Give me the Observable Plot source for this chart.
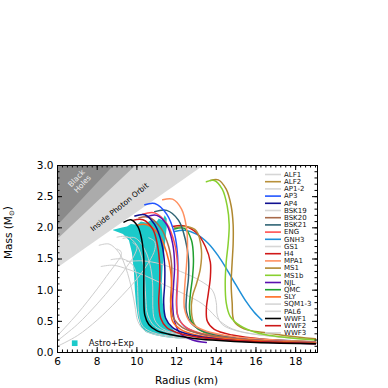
<!DOCTYPE html>
<html><head><meta charset="utf-8">
<script src="https://cdn.jsdelivr.net/npm/d3@7"></script>
<script src="https://cdn.jsdelivr.net/npm/@observablehq/plot@0.6"></script>
<style>body{margin:0;background:#fff}</style>
</head><body><div id="chart"></div>
<script>
// ---------- tick labels ----------
const xMajorTicks = [6, 8, 10, 12, 14, 16, 18];
const yMajorTicks = [0, 0.5, 1.0, 1.5, 2.0, 2.5, 3.0];

// ---------- forbidden-region edges (R km, M Msun) ----------
const photonEdgeR = [6, 13.4],  photonEdgeM = [1.35, 3.0];
const buchdahlEdgeR = [6, 9.97], buchdahlEdgeM = [1.81, 3.0];
const bhEdgeR = [6, 8.86],      bhEdgeM = [2.03, 3.0];

// ---------- Astro+Exp band ----------
const astroR = [8.8,9.3,9.6,9.75,9.85,9.9,9.95,10.05,10.2,10.45,10.9,11.4,12.0,12.6,12.3,11.9,11.6,11.4,11.3,11.25,11.3,11.4,11.5,11.5,11.4,11.3,11.1,11.0,10.7,10.5,10.2,10.0,9.7,9.5,9.2,8.8];
const astroM = [1.96,1.9,1.8,1.6,1.3,1.0,0.8,0.57,0.42,0.33,0.28,0.25,0.23,0.22,0.28,0.35,0.45,0.6,0.8,1.1,1.4,1.7,2.0,2.15,2.2,2.12,2.15,2.1,2.12,2.08,2.1,2.05,2.06,2.02,2.0,1.97];

// ---------- EOS names and colours (legend order) ----------
const eosNames  = ["ALF1","ALF2","AP1-2","AP3","AP4","BSK19","BSK20","BSK21","ENG","GNH3","GS1","H4","MPA1","MS1","MS1b","NJL","QMC","SLY","SQM1-3","PAL6","WWF1","WWF2","WWF3"];
const eosColors = ["#d6d6d6","#b8903a","#d6d6d6","#2255ff","#101090","#d6d6d6","#a86a4a","#2f6474","#ff5050","#1e8fd8","#d6d6d6","#d01818","#ff9060","#b08830","#88d030","#5a10b0","#20a030","#ff6a20","#d6d6d6","#d6d6d6","#000000","#cc1818","#d6d6d6"];

// ---------- mass-radius curves ----------
const R_ALF1 = [8.7,9.3,9.8,10.0,10.05,10.1,10.3,10.8,12,14,17,19];
const M_ALF1 = [1.49,1.5,1.4,1.2,0.9,0.6,0.42,0.32,0.25,0.2,0.17,0.15];
const R_AP12 = [8.1,8.6,9.1,9.45,9.75,9.9,10.05,10.4,11.2,13,16,19];
const M_AP12 = [1.72,1.74,1.6,1.35,1.0,0.75,0.5,0.35,0.27,0.21,0.17,0.15];
const R_BSK19 = [9.0,9.5,10.0,10.3,10.4,10.45,10.55,10.9,11.6,13,16,19];
const M_BSK19 = [1.85,1.86,1.72,1.45,1.15,0.85,0.6,0.42,0.32,0.25,0.19,0.16];
const R_GS1 = [8.2,8.8,9.6,10.5,11.5,12.5,13.3,13.8,14.2,14.8,16,19];
const M_GS1 = [1.38,1.4,1.33,1.22,1.07,0.92,0.78,0.63,0.5,0.38,0.29,0.21];
const R_SQM1 = [6,7,8,8.6,9.0,9.2,9.2,9.0];
const M_SQM1 = [0.27,0.62,1.02,1.28,1.45,1.55,1.62,1.66];
const R_SQM2 = [6,7,8,8.8,9.5,9.9,10.0,9.8];
const M_SQM2 = [0.19,0.45,0.78,1.08,1.38,1.58,1.7,1.76];
const R_SQM3 = [6,7,8,9,10,10.6,10.9,10.9,10.6];
const M_SQM3 = [0.1,0.27,0.52,0.83,1.18,1.45,1.65,1.78,1.84];
const R_PAL6 = [9.5,10.3,11.2,12.2,13.2,13.8,14.0,14.05,14.3,15,16.5,19];
const M_PAL6 = [1.46,1.47,1.42,1.3,1.15,1.0,0.8,0.6,0.45,0.35,0.27,0.2];
const R_WWF3 = [9.3,9.9,10.4,10.7,10.8,10.8,10.9,11.3,12.2,14,17,19];
const M_WWF3 = [1.83,1.84,1.65,1.35,1.05,0.75,0.52,0.38,0.29,0.23,0.18,0.16];

const R_WWF1 = [9.35,9.7,10.05,10.25,10.35,10.35,10.35,10.4,10.6,11.0,11.8,12.8,13.8,16,19];
const M_WWF1 = [2.09,2.13,2.02,1.8,1.5,1.2,0.9,0.6,0.45,0.35,0.28,0.23,0.2,0.16,0.14];
const R_WWF2 = [9.8,10.3,10.8,11.05,11.15,11.15,11.1,11.2,11.5,12,13,14.5,16.5,19];
const M_WWF2 = [2.12,2.13,1.98,1.7,1.4,1.1,0.8,0.55,0.4,0.32,0.25,0.2,0.17,0.14];
const R_AP4 = [9.9,10.4,10.9,11.25,11.4,11.4,11.35,11.45,11.8,12.5,13.5,15,17,19];
const M_AP4 = [2.19,2.21,2.05,1.75,1.4,1.1,0.8,0.55,0.4,0.3,0.24,0.19,0.16,0.14];
const R_SLY = [10.0,10.5,11.1,11.5,11.7,11.75,11.7,11.8,12.2,13,14.5,16.5,19];
const M_SLY = [2.04,2.05,1.9,1.6,1.3,1.0,0.7,0.5,0.37,0.28,0.22,0.18,0.15];
const R_BSK20 = [10.1,10.6,11.2,11.6,11.75,11.75,11.7,11.85,12.3,13.2,15,17,19];
const M_BSK20 = [2.16,2.17,2.0,1.7,1.4,1.1,0.8,0.55,0.4,0.3,0.22,0.18,0.16];
const R_ENG = [10.3,10.9,11.5,11.9,12.05,12.05,12.0,12.1,12.5,13.3,15,17,19];
const M_ENG = [2.22,2.24,2.07,1.75,1.4,1.1,0.8,0.55,0.4,0.3,0.22,0.18,0.16];
const R_NJL = [10.5,11.0,11.5,11.8,11.9,11.85,11.8,11.9,12.2,12.8,13.5];
const M_NJL = [2.18,2.2,2.05,1.75,1.4,1.1,0.8,0.5,0.3,0.2,0.16];
const R_AP3 = [10.4,10.9,11.5,11.9,12.05,12.05,12.0,12.05,12.4,13.2,15,17,19];
const M_AP3 = [2.37,2.39,2.22,1.9,1.55,1.2,0.9,0.6,0.42,0.3,0.22,0.18,0.16];
const R_MPA1 = [11.3,11.8,12.25,12.5,12.55,12.5,12.4,12.4,12.7,13.5,15,17,19];
const M_MPA1 = [2.45,2.46,2.3,2.0,1.7,1.4,1.0,0.7,0.48,0.34,0.25,0.2,0.17];
const R_BSK21 = [10.9,11.5,12.1,12.45,12.6,12.6,12.5,12.5,12.8,13.6,15,17,19];
const M_BSK21 = [2.26,2.28,2.12,1.8,1.5,1.2,0.9,0.65,0.45,0.32,0.24,0.2,0.17];
const R_QMC = [11.9,12.4,12.75,12.85,12.8,12.7,12.65,12.75,13.1,14,15.5,17,19];
const M_QMC = [1.98,1.99,1.8,1.5,1.2,0.95,0.7,0.5,0.37,0.28,0.22,0.19,0.17];
const R_ALF2 = [11.9,12.5,13.0,13.25,13.2,13.0,12.8,12.75,12.9,13.4,14.5,16.5,19];
const M_ALF2 = [2.0,2.02,1.95,1.65,1.35,1.1,0.9,0.65,0.45,0.32,0.24,0.19,0.16];
const R_H4 = [11.8,12.4,13.0,13.45,13.7,13.7,13.6,13.5,13.55,13.9,14.8,16.5,19];
const M_H4 = [2.02,2.03,1.92,1.7,1.45,1.2,0.95,0.7,0.5,0.37,0.28,0.21,0.17];
const R_GNH3 = [11.9,12.4,13.0,13.6,14.1,14.5,15.0,15.5,15.9,16.3];
const M_GNH3 = [1.94,1.96,1.9,1.75,1.55,1.35,1.08,0.82,0.65,0.52];
const R_MS1b = [13.5,13.9,14.3,14.55,14.65,14.6,14.5,14.45,14.5,14.7,15.2,16,17,19];
const M_MS1b = [2.74,2.76,2.62,2.35,2.05,1.75,1.45,1.1,0.8,0.58,0.43,0.32,0.26,0.2];
const R_MS1 = [13.7,14.1,14.5,14.75,14.85,14.85,14.8,14.75,14.8,14.9,15.4,16.4,17.5,19];
const M_MS1 = [2.76,2.77,2.62,2.35,2.05,1.75,1.45,1.1,0.8,0.5,0.38,0.32,0.27,0.22];

// drawing order: grey first, then coloured
const grayCurves = [
  ["ALF1",R_ALF1,M_ALF1],["AP1-2",R_AP12,M_AP12],["BSK19",R_BSK19,M_BSK19],["GS1",R_GS1,M_GS1],
  ["SQM1-3",R_SQM1,M_SQM1],["SQM1-3",R_SQM2,M_SQM2],["SQM1-3",R_SQM3,M_SQM3],["PAL6",R_PAL6,M_PAL6],["WWF3",R_WWF3,M_WWF3]
];
const colorCurves = [
  ["GNH3",R_GNH3,M_GNH3],["MS1",R_MS1,M_MS1],["MS1b",R_MS1b,M_MS1b],["H4",R_H4,M_H4],["ALF2",R_ALF2,M_ALF2],
  ["QMC",R_QMC,M_QMC],["BSK21",R_BSK21,M_BSK21],["MPA1",R_MPA1,M_MPA1],["AP3",R_AP3,M_AP3],["ENG",R_ENG,M_ENG],
  ["NJL",R_NJL,M_NJL],["BSK20",R_BSK20,M_BSK20],["SLY",R_SLY,M_SLY],["AP4",R_AP4,M_AP4],["WWF2",R_WWF2,M_WWF2],["WWF1",R_WWF1,M_WWF1]
];
const colorOf = n => eosColors[eosNames.indexOf(n)];
const pts = (R, M) => R.map((r, i) => ({R: r, M: M[i]}));
const edge = (R, M) => R.map((r, i) => ({R: r, lo: M[i], hi: 3.0}));

// layout constants
const W = 388, H = 388, mL = 57, mR = 71, mT = 165, mB = 36;
const xDom = [6, 19.1], yDom = [0, 3];
const kx = (W - mL - mR) / (xDom[1] - xDom[0]);   // px per km
const ky = (H - mT - mB) / (yDom[1] - yDom[0]);   // px per Msun
const xMinor = d3.range(6, 19.01, 0.25);
const yMinor = d3.range(0, 3.001, 0.1);
const FONT = "DejaVu Sans, Liberation Sans, sans-serif";

// legend layout (data units)
const legX1 = 6 + (265 - mL) / kx, legX2 = 6 + (281 - mL) / kx, legTX = 6 + (283.5 - mL) / kx;
const legTop = (H - mB - 174) / ky, legStep = 7.2 / ky;
const legendRows = eosNames.map((n, i) => ({name: n, color: eosColors[i], y: legTop - i * legStep}));

const marks = [
  Plot.areaY(edge(photonEdgeR, photonEdgeM), {x: "R", y1: "lo", y2: "hi", fill: "#dadada"}),
  Plot.areaY(edge(buchdahlEdgeR, buchdahlEdgeM), {x: "R", y1: "lo", y2: "hi", fill: "#ababab"}),
  Plot.areaY(edge(bhEdgeR, bhEdgeM), {x: "R", y1: "lo", y2: "hi", fill: "#8a8a8a"}),
  Plot.line(pts(astroR, astroM), {x: "R", y: "M", fill: "#1ccaca", stroke: "none"}),
  ...grayCurves.map(([n, R, M]) => Plot.line(pts(R, M), {x: "R", y: "M", stroke: "#cdcdcd", strokeWidth: 1, curve: "catmull-rom"})),
  ...colorCurves.map(([n, R, M]) => Plot.line(pts(R, M), {x: "R", y: "M", stroke: colorOf(n), strokeWidth: 1.5, curve: "catmull-rom"})),
  Plot.text(["Black\nHoles"], {x: 7.1, y: 2.75, text: d => d, rotate: -47, fill: "#eeeeee", fontSize: 7.5, lineHeight: 1.1}),
  Plot.text(["Inside Photon Orbit"], {x: 9.12, y: 2.33, text: d => d, rotate: -39, fill: "#000", fontSize: 7.5}),
  // legend
  Plot.ruleY(legendRows, {y: "y", x1: legX1, x2: legX2, stroke: "color", strokeWidth: 1.6}),
  Plot.text(legendRows, {x: legTX, y: "y", text: "name", textAnchor: "start", fontSize: 7, fill: "#111"}),
  Plot.dot(["Astro+Exp"], {x: 6 + (74.2 - mL) / kx, y: (H - mB - 342.7) / ky, symbol: "square", r: 3.2, fill: "#1ccaca", stroke: "none"}),
  Plot.text(["Astro+Exp"], {x: 6 + (88.3 - mL) / kx, y: (H - mB - 342.7) / ky, text: d => d, textAnchor: "start", fontSize: 8.5, fill: "#111"}),
  // inward ticks on four sides
  Plot.ruleX(xMajorTicks, {x: d => d, y1: 0, y2: 5 / ky, stroke: "#000"}),
  Plot.ruleX(xMinor, {x: d => d, y1: 0, y2: 2.5 / ky, stroke: "#000"}),
  Plot.ruleX(xMajorTicks, {x: d => d, y1: 3, y2: 3 - 5 / ky, stroke: "#000"}),
  Plot.ruleX(xMinor, {x: d => d, y1: 3, y2: 3 - 2.5 / ky, stroke: "#000"}),
  Plot.ruleY(yMajorTicks, {y: d => d, x1: xDom[0], x2: xDom[0] + 5 / kx, stroke: "#000"}),
  Plot.ruleY(yMinor, {y: d => d, x1: xDom[0], x2: xDom[0] + 2.5 / kx, stroke: "#000"}),
  Plot.ruleY(yMajorTicks, {y: d => d, x1: xDom[1], x2: xDom[1] - 5 / kx, stroke: "#000"}),
  Plot.ruleY(yMinor, {y: d => d, x1: xDom[1], x2: xDom[1] - 2.5 / kx, stroke: "#000"}),
  Plot.frame({stroke: "#000", strokeWidth: 1}),
  Plot.axisX({ticks: xMajorTicks, tickSize: 0, tickPadding: 5, label: null, fontSize: 10.5}),
  Plot.axisY({ticks: yMajorTicks, tickSize: 0, tickPadding: 4, label: null, tickFormat: d3.format(".1f"), fontSize: 10.5}),
  Plot.text(["Radius (km)"], {frameAnchor: "bottom", dy: 31, dx: -1, text: d => d, fontSize: 10.5, fill: "#000"}),
  Plot.text(["Mass (M⊙)"], {frameAnchor: "left", dx: -49, text: d => d, rotate: -90, fontSize: 10.5, fill: "#000"})
];

const chart = Plot.plot({
  width: W, height: H,
  marginLeft: mL, marginRight: mR, marginTop: mT, marginBottom: mB,
  x: {domain: xDom, axis: null},
  y: {domain: yDom, axis: null},
  style: {fontFamily: FONT, background: "#fff", color: "#000"},
  marks
});
document.getElementById("chart").appendChild(chart);

// subscript sun symbol in the y label
d3.select(chart).selectAll("text").filter(function() { return this.textContent === "Mass (M⊙)"; })
  .each(function() {
    const t = d3.select(this);
    t.text("");
    t.append("tspan").text("Mass (M");
    t.append("tspan").attr("font-size", 7).attr("dy", "0.3em").text("⊙");
    t.append("tspan").attr("dy", "-0.3em").text(")");
  });
</script></body></html>
